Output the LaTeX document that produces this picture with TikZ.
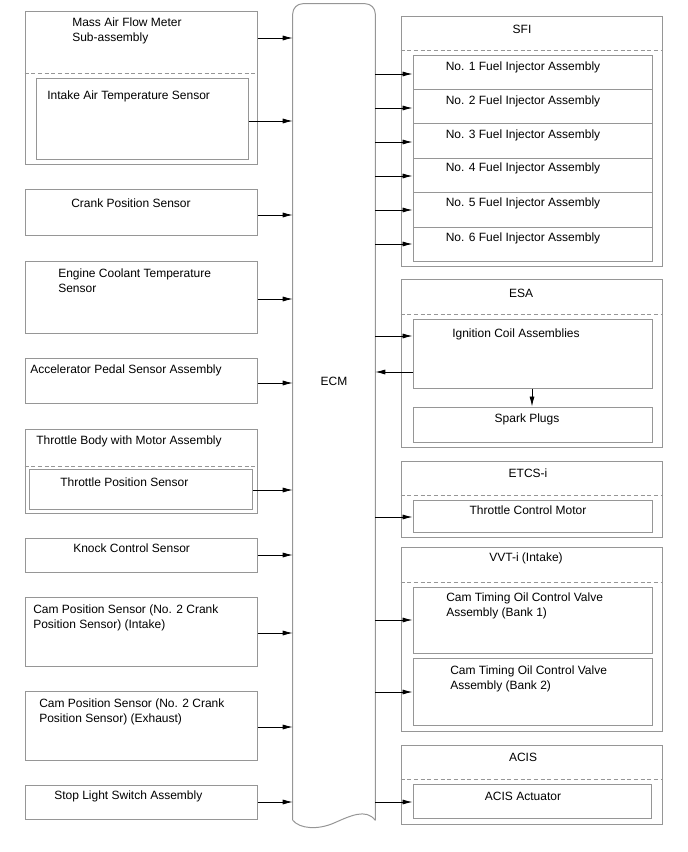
\documentclass[tikz,border=0pt]{standalone}
\usepackage{fontspec}
\setmainfont{Liberation Sans}
\usetikzlibrary{arrows.meta,fit}
\definecolor{bordergray}{RGB}{150,150,150}
\tikzset{
  box/.style={draw=bordergray, line width=0.75pt, inner sep=0pt},
  dashsep/.style={draw=bordergray, line width=0.75pt, dash pattern=on 3pt off 2pt},
  arr/.style={-{Latex[length=7.5pt,width=3.8pt]}, line width=0.6pt, draw=black},
  lbl/.style={font=\fontsize{9}{11.25}\selectfont, inner sep=0pt, align=left},
  ecmline/.style={draw=bordergray, line width=0.75pt},
}
\begin{document}
\begin{tikzpicture}[x=0.75pt,y=-0.75pt]
\useasboundingbox (0,0) rectangle (688,852);

% ---------- ECM ----------
\node[inner sep=0pt, fit={(293,4)(375,820)}] (ecm) {};
\draw[ecmline, rounded corners=7.5pt] (ecm.south west) -- (ecm.north west) -- (ecm.north east) -- (ecm.south east);
\draw[ecmline] (ecm.south west) .. controls (300,829) and (318,830) .. (334,823)
  .. controls (350,816) and (366,808) .. (ecm.south east);
\node[lbl, anchor=center] (tecm) at (334,381) {ECM};

% ---------- Left side ----------
\node[box, fit={(25,12)(257,165)}] (maf) {};
\draw[dashsep] (maf.west |- 0,74) -- (maf.east |- 0,74);
\node[box, fit={(36,79)(248,160)}] (iat) {};
\node[lbl, anchor=west] (tmaf) at (72,31) {Mass Air Flow Meter\\Sub-assembly};
\node[lbl, anchor=west] (tiat) at (47,96) {Intake Air Temperature Sensor};

\node[box, fit={(25,190)(257,235)}] (crank) {};
\node[lbl, anchor=west] (tcrank) at (71,203) {Crank Position Sensor};

\node[box, fit={(25,261)(257,333)}] (ect) {};
\node[lbl, anchor=west] (tect) at (58,281) {Engine Coolant Temperature\\Sensor};

\node[box, fit={(25,358)(257,403)}] (app) {};
\node[lbl, anchor=west] (tapp) at (30,370) {Accelerator Pedal Sensor Assembly};

\node[box, fit={(25,429)(257,513)}] (tb) {};
\draw[dashsep] (tb.west |- 0,466) -- (tb.east |- 0,466);
\node[box, fit={(29,469)(252,509)}] (tps) {};
\node[lbl, anchor=west] (ttb) at (36,441) {Throttle Body with Motor Assembly};
\node[lbl, anchor=west] (ttps) at (60,482) {Throttle Position Sensor};

\node[box, fit={(25,538)(257,572)}] (ks) {};
\node[lbl, anchor=west] (tks) at (73,548) {Knock Control Sensor};

\node[box, fit={(25,597)(257,666)}] (cmpi) {};
\node[lbl, anchor=west] (tcmpi) at (33,617.5) {Cam Position Sensor (No. 2 Crank\\Position Sensor) (Intake)};

\node[box, fit={(25,691)(257,760)}] (cmpe) {};
\node[lbl, anchor=west] (tcmpe) at (39,711.5) {Cam Position Sensor (No. 2 Crank\\Position Sensor) (Exhaust)};

\node[box, fit={(25,785)(257,819)}] (stp) {};
\node[lbl, anchor=west] (tstp) at (54,796) {Stop Light Switch Assembly};

% left connectors
\draw[arr] (maf.east |- 0,38) -- (ecm.west |- 0,38);
\draw[arr] (iat.east |- 0,121) -- (ecm.west |- 0,121);
\draw[arr] (crank.east |- 0,215) -- (ecm.west |- 0,215);
\draw[arr] (ect.east |- 0,299) -- (ecm.west |- 0,299);
\draw[arr] (app.east |- 0,383) -- (ecm.west |- 0,383);
\draw[arr] (tps.east |- 0,490) -- (ecm.west |- 0,490);
\draw[arr] (ks.east |- 0,555) -- (ecm.west |- 0,555);
\draw[arr] (cmpi.east |- 0,633) -- (ecm.west |- 0,633);
\draw[arr] (cmpe.east |- 0,727) -- (ecm.west |- 0,727);
\draw[arr] (stp.east |- 0,802) -- (ecm.west |- 0,802);

% ---------- Right side ----------
% SFI
\node[box, fit={(401,17)(662,266)}] (sfi) {};
\node[lbl, anchor=center] (tsfi) at (522,29) {SFI};
\draw[dashsep] (sfi.west |- 0,51) -- (sfi.east |- 0,51);
\node[box, fit={(413,56)(652,90)}] (inj1) {};
\node[box, fit={(413,90)(652,124)}] (inj2) {};
\node[box, fit={(413,124)(652,159)}] (inj3) {};
\node[box, fit={(413,159)(652,193)}] (inj4) {};
\node[box, fit={(413,193)(652,228)}] (inj5) {};
\node[box, fit={(413,228)(652,261)}] (inj6) {};
\node[lbl, anchor=center] (tinj1) at (523,67) {No. 1 Fuel Injector Assembly};
\node[lbl, anchor=center] (tinj2) at (523,101) {No. 2 Fuel Injector Assembly};
\node[lbl, anchor=center] (tinj3) at (523,135) {No. 3 Fuel Injector Assembly};
\node[lbl, anchor=center] (tinj4) at (523,168) {No. 4 Fuel Injector Assembly};
\node[lbl, anchor=center] (tinj5) at (523,203) {No. 5 Fuel Injector Assembly};
\node[lbl, anchor=center] (tinj6) at (523,238) {No. 6 Fuel Injector Assembly};
\draw[arr] (ecm.east |- 0,74) -- (inj1.west |- 0,74);
\draw[arr] (ecm.east |- 0,108) -- (inj2.west |- 0,108);
\draw[arr] (ecm.east |- 0,142) -- (inj3.west |- 0,142);
\draw[arr] (ecm.east |- 0,176) -- (inj4.west |- 0,176);
\draw[arr] (ecm.east |- 0,210) -- (inj5.west |- 0,210);
\draw[arr] (ecm.east |- 0,244) -- (inj6.west |- 0,244);

% ESA
\node[box, fit={(401,279)(662,447)}] (esa) {};
\node[lbl, anchor=center] (tesa) at (521,293) {ESA};
\draw[dashsep] (esa.west |- 0,314) -- (esa.east |- 0,314);
\node[box, fit={(413,319)(652,388)}] (ign) {};
\node[lbl, anchor=west] (tign) at (452,334) {Ignition Coil Assemblies};
\node[box, fit={(413,407)(652,442)}] (spk) {};
\node[lbl, anchor=center] (tspk) at (527,419) {Spark Plugs};
\draw[arr] (ecm.east |- 0,336) -- (ign.west |- 0,336);
\draw[arr] (ign.west |- 0,372) -- (ecm.east |- 0,372);
\draw[arr] (ign.south -| 532,0) -- (spk.north -| 532,0);

% ETCS-i
\node[box, fit={(401,461)(662,537)}] (etcs) {};
\node[lbl, anchor=center] (tetcs) at (528,473) {ETCS-i};
\draw[dashsep] (etcs.west |- 0,495) -- (etcs.east |- 0,495);
\node[box, fit={(413,500)(652,532)}] (tcm) {};
\node[lbl, anchor=center] (ttcm) at (528,510) {Throttle Control Motor};
\draw[arr] (ecm.east |- 0,517) -- (tcm.west |- 0,517);

% VVT-i
\node[box, fit={(401,547)(662,731)}] (vvt) {};
\node[lbl, anchor=center] (tvvt) at (526,558) {VVT-i (Intake)};
\draw[dashsep] (vvt.west |- 0,582) -- (vvt.east |- 0,582);
\node[box, fit={(413,587)(652,653)}] (ocv1) {};
\node[box, fit={(413,658)(652,725)}] (ocv2) {};
\node[lbl, anchor=west] (tocv1) at (446,605.5) {Cam Timing Oil Control Valve\\Assembly (Bank 1)};
\node[lbl, anchor=west] (tocv2) at (450,678.5) {Cam Timing Oil Control Valve\\Assembly (Bank 2)};
\draw[arr] (ecm.east |- 0,620) -- (ocv1.west |- 0,620);
\draw[arr] (ecm.east |- 0,692) -- (ocv2.west |- 0,692);

% ACIS
\node[box, fit={(401,745)(662,824)}] (acis) {};
\node[lbl, anchor=center] (tacis) at (523,757) {ACIS};
\draw[dashsep] (acis.west |- 0,779) -- (acis.east |- 0,779);
\node[box, fit={(413,784)(651,818)}] (act) {};
\node[lbl, anchor=center] (tact) at (523,796) {ACIS Actuator};
\draw[arr] (ecm.east |- 0,802) -- (act.west |- 0,802);
\end{tikzpicture}
\end{document}
